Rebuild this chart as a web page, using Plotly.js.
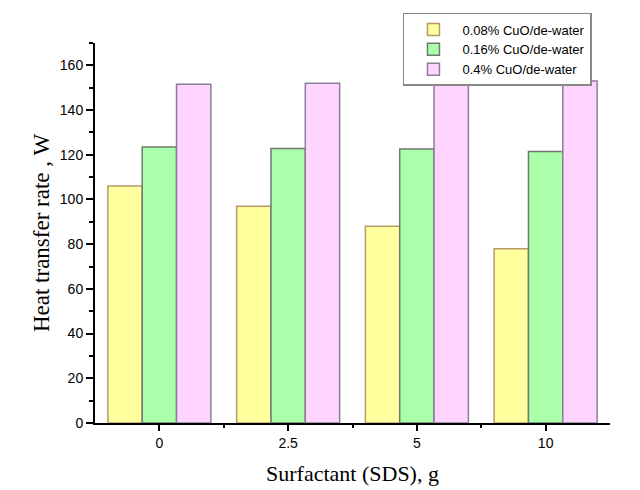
<!DOCTYPE html>
<html>
<head>
<meta charset="utf-8">
<script src="https://cdn.plot.ly/plotly-3.0.1.min.js"></script>
<style>html,body{margin:0;padding:0;background:#fff}#chart{width:640px;height:490px}</style>
</head>
<body>
<div id="chart"></div>
<script>
const categories = ["0", "2.5", "5", "10"];
const seriesNames = ["0.08% CuO/de-water", "0.16% CuO/de-water", "0.4% CuO/de-water"];
const conc008 = [106, 97, 88, 78];
const conc016 = [123.5, 122.8, 122.6, 121.5];
const conc04 = [151.5, 152, 152, 153];

const positions = categories.map((c, i) => i);
const fills = ["#FFFF9E", "#AAFFAA", "#FFD5FF"];
const outlines = ["#B89A6A", "#6E7A6E", "#8A7F99"];
const allSeries = [conc008, conc016, conc04];

const traces = allSeries.map((vals, k) => ({
  type: "bar",
  name: seriesNames[k],
  x: positions,
  y: vals,
  marker: {color: fills[k], line: {color: outlines[k], width: 1.5}},
  hoverinfo: "x+y+name"
}));

const layout = {
  width: 640, height: 490,
  margin: {l: 95, r: 30, t: 43, b: 67},
  paper_bgcolor: "#fff", plot_bgcolor: "#fff",
  barmode: "group", bargap: 0.2, bargroupgap: 0,
  font: {family: "Liberation Sans, Arial, sans-serif", color: "#000"},
  xaxis: {
    range: [-0.5, 3.5],
    tickmode: "array", tickvals: positions, ticktext: categories,
    showgrid: false, zeroline: false,
    showline: true, linecolor: "#000", linewidth: 2,
    ticks: "outside", ticklen: 6, tickwidth: 2, tickcolor: "#000",
    tickfont: {size: 14, family: "Liberation Sans, Arial, sans-serif"},
    minor: {tickmode: "array", tickvals: [0.5, 1.5, 2.5], ticks: "outside", ticklen: 3, tickwidth: 2, tickcolor: "#000"},
    title: {text: "Surfactant (SDS), g", font: {family: "Liberation Serif, Times New Roman, serif", size: 22}, standoff: 16}
  },
  yaxis: {
    range: [0, 170],
    tickmode: "linear", tick0: 0, dtick: 20,
    showgrid: false, zeroline: false,
    showline: true, linecolor: "#000", linewidth: 2,
    ticks: "outside", ticklen: 7, tickwidth: 2, tickcolor: "#000",
    tickfont: {size: 14, family: "Liberation Sans, Arial, sans-serif"},
    minor: {dtick: 10, ticks: "outside", ticklen: 4, tickwidth: 2, tickcolor: "#000"},
    title: {text: "Heat transfer rate , W", font: {family: "Liberation Serif, Times New Roman, serif", size: 23}, standoff: 4}
  },
  legend: {
    x: 0.598, y: 1.079, xanchor: "left", yanchor: "top",
    bgcolor: "#fff", bordercolor: "#888", borderwidth: 1.5,
    font: {size: 13, family: "Liberation Sans, Arial, sans-serif"},
    tracegroupgap: 0, itemwidth: 48
  },
  showlegend: true
};

Plotly.newPlot("chart", traces, layout, {displayModeBar: false, staticPlot: true});
</script>
</body>
</html>
